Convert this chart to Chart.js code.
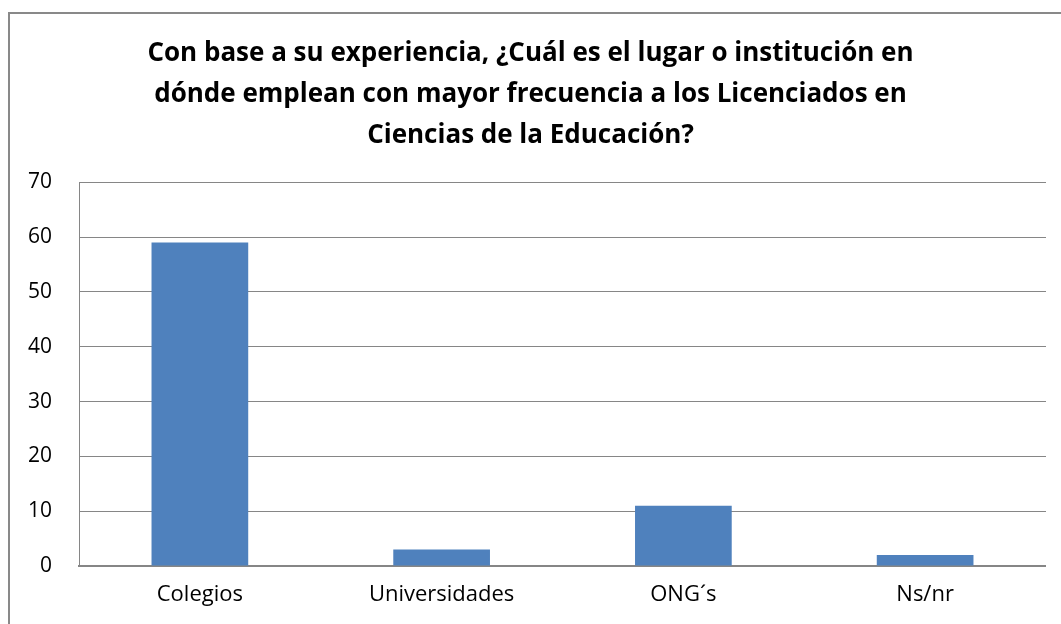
<!DOCTYPE html>
<html>
<head>
<meta charset="utf-8">
<script src="https://cdn.jsdelivr.net/npm/chart.js@4"></script>
<style>
    html, body { margin: 0; padding: 0; background: #fff; overflow: hidden; }
    #frame {
        position: absolute; left: 8px; top: 12px;
        width: 1100px; height: 700px;
        border-left: 2px solid #898989; border-top: 2px solid #898989;
    }
    canvas { position: absolute; left: 0; top: 0; }
</style>
</head>
<body>
<div id="frame"></div>
<canvas id="chart" width="1046" height="624"></canvas>
<script>
const categories = ['Colegios', 'Universidades', 'ONG´s', 'Ns/nr'];
const values = [59, 3, 11, 2];
const titleLines = [
    'Con base a su experiencia, ¿Cuál es el lugar o institución en',
    'dónde emplean con mayor frecuencia a los Licenciados en',
    'Ciencias de la Educación?'
];

const fontFamily = "'Open Sans', 'Noto Sans', sans-serif";
const gray = '#868686';

const ctx = document.getElementById('chart');

new Chart(ctx, {
    type: 'bar',
    data: {
        labels: categories,
        datasets: [{
            data: values,
            backgroundColor: '#4F81BD',
            borderWidth: 0,
            categoryPercentage: 1,
            barPercentage: 0.4
        }]
    },
    options: {
        responsive: false,
        animation: false,
        layout: {
            padding: { left: 15, right: 0, top: 0, bottom: 0 }
        },
        scales: {
            y: {
                min: 0,
                max: 70,
                ticks: {
                    stepSize: 10,
                    color: '#000',
                    padding: 27,
                    font: { family: fontFamily, size: 21 }
                },
                grid: {
                    color: gray,
                    lineWidth: 1,
                    drawTicks: false
                },
                border: { color: gray, width: 1 },
                afterFit: scale => { scale.width = 64; }
            },
            x: {
                ticks: {
                    color: '#000',
                    padding: 16,
                    font: { family: fontFamily, size: 22 }
                },
                grid: { display: false, drawTicks: false },
                border: { color: gray, width: 2 },
                afterFit: scale => { scale.height = 58; }
            }
        },
        plugins: {
            legend: { display: false },
            tooltip: { enabled: false },
            title: {
                display: true,
                text: titleLines,
                color: '#000',
                padding: { top: 33, bottom: 26 },
                font: {
                    family: fontFamily,
                    weight: 'bold',
                    size: 26,
                    lineHeight: 1.58
                }
            }
        }
    }
});
</script>
</body>
</html>
